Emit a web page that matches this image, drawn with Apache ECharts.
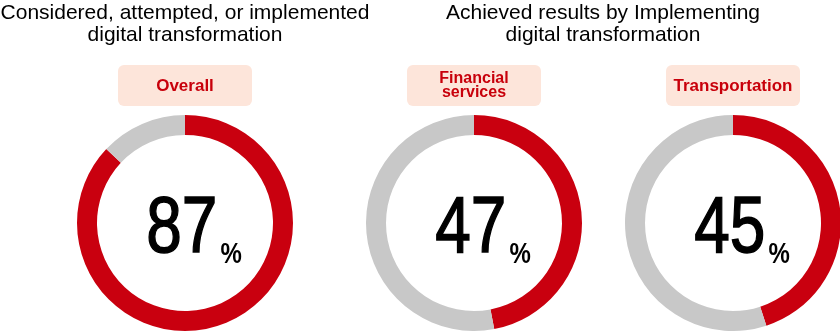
<!DOCTYPE html>
<html>
<head>
<meta charset="utf-8">
<script src="https://cdn.jsdelivr.net/npm/echarts@6/dist/echarts.min.js"></script>
<style>
html,body{margin:0;padding:0;background:#fff;}
#chart{width:840px;height:331px;}
</style>
</head>
<body>
<div id="chart"></div>
<script>
// Data
var categories = ['Overall', 'Financial\nservices', 'Transportation'];
var values = [87, 47, 45];
var groupTitles = ['Considered, attempted, or implemented\ndigital transformation', 'Achieved results by Implementing\ndigital transformation'];

var RED = '#c9000f', GREY = '#c8c8c8', BOX = '#fde5da', LABEL_RED = '#c8000b';
var centersX = [185, 474, 733];
var centerY = 223;
var FONT = "'Liberation Sans', Arial, sans-serif";

var series = values.map(function (v, i) {
  return {
    type: 'pie',
    radius: [88, 108],
    center: [centersX[i], centerY],
    startAngle: 90,
    clockwise: true,
    silent: true,
    label: {show: false},
    labelLine: {show: false},
    data: [
      {value: v, name: categories[i], itemStyle: {color: RED}},
      {value: 100 - v, name: 'rest', itemStyle: {color: GREY}}
    ]
  };
});

var graphic = [];
graphic.push({type: 'text', x: 185, y: 2, style: {text: groupTitles[0], align: 'center', verticalAlign: 'top', fontFamily: FONT, fontSize: 21, lineHeight: 22, fill: '#000'}});
graphic.push({type: 'text', x: 603, y: 2, style: {text: groupTitles[1], align: 'center', verticalAlign: 'top', fontFamily: FONT, fontSize: 21, lineHeight: 22, fill: '#000'}});
categories.forEach(function (c, i) {
  var twoLine = c.indexOf('\n') >= 0;
  graphic.push({type: 'rect', shape: {x: centersX[i] - 67, y: 65, width: 134, height: 41, r: 6}, style: {fill: BOX}});
  graphic.push({type: 'text', x: centersX[i], y: 86, style: {text: c, align: 'center', verticalAlign: 'middle', fontFamily: FONT, fontWeight: 'bold', fontSize: twoLine ? 16 : 17, lineHeight: twoLine ? 14 : 17, fill: LABEL_RED}});
  graphic.push({type: 'text', x: centersX[i] + 9, y: 230, scaleX: 0.8,
    style: {text: '{v|' + values[i] + '}{p|%}', align: 'center', verticalAlign: 'middle',
      rich: {
        v: {fontFamily: FONT, fontSize: 80, lineHeight: 80, fill: '#000', stroke: '#000', lineWidth: 1.5, verticalAlign: 'bottom'},
        p: {fontFamily: FONT, fontSize: 30, fontWeight: 'bold', lineHeight: 45, fill: '#000', verticalAlign: 'bottom', padding: [0, 0, 0, 4]}
      }}});
});

var chart = echarts.init(document.getElementById('chart'), null, {renderer: 'canvas'});
chart.setOption({
  animation: false,
  series: series,
  graphic: graphic
});
</script>
</body>
</html>
